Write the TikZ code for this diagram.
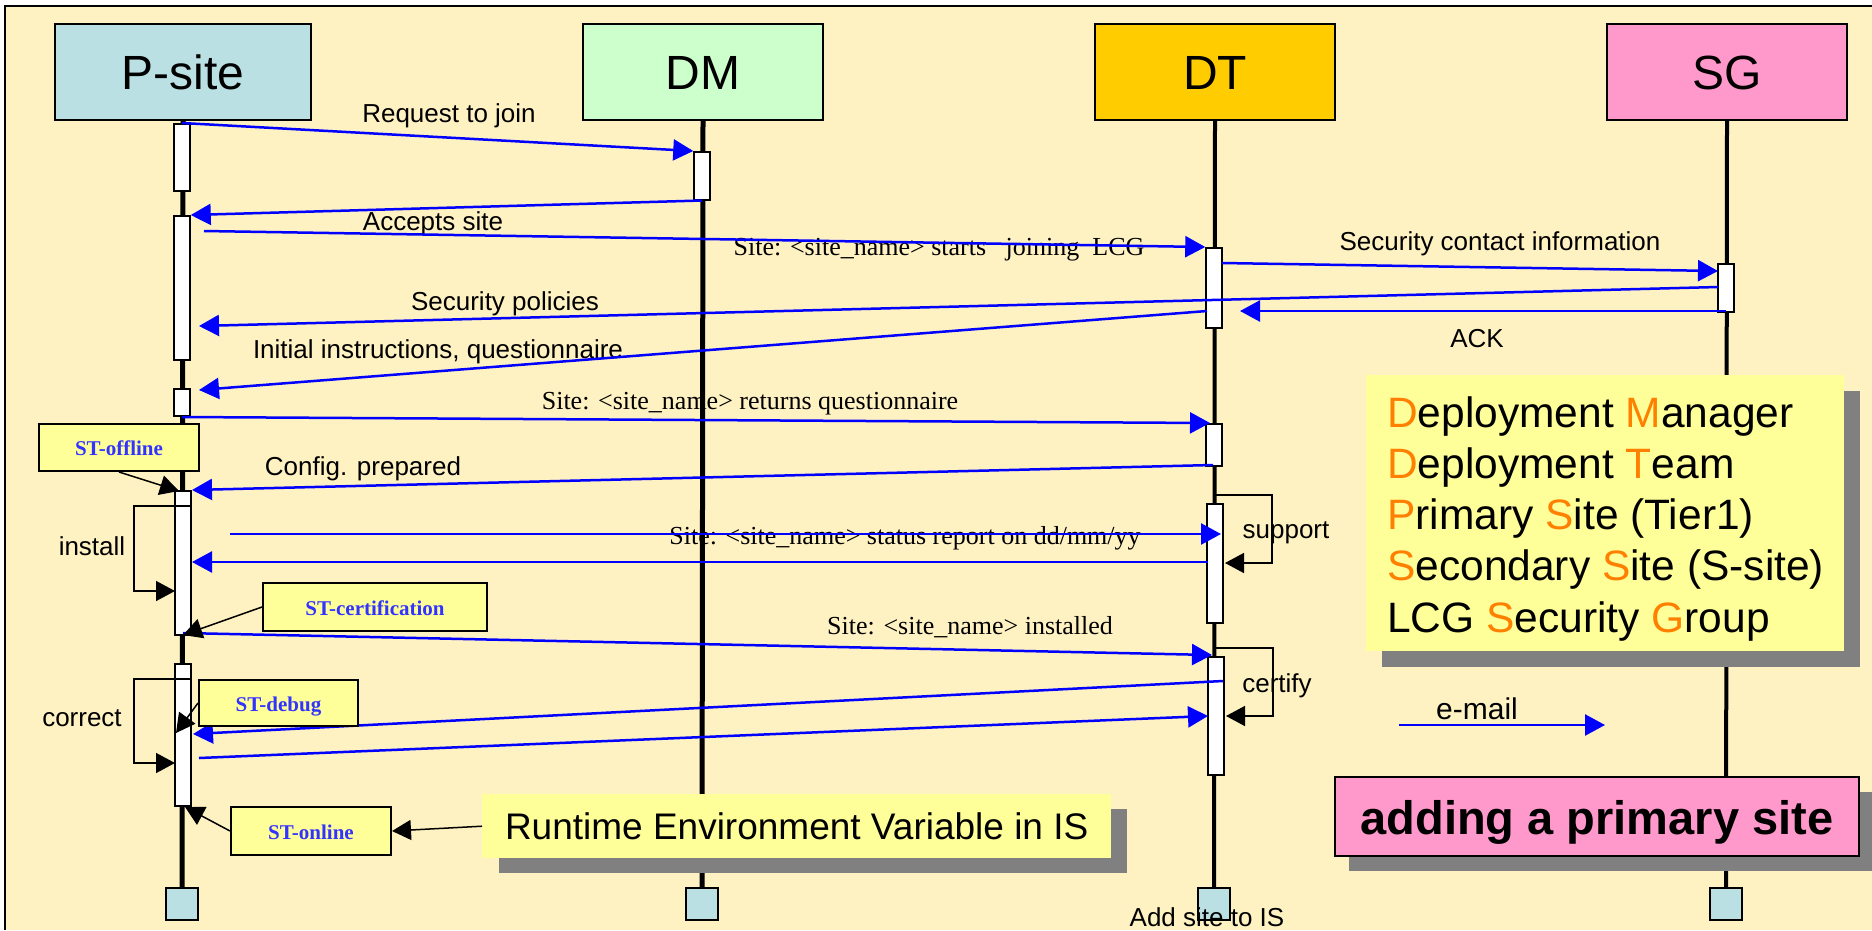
\documentclass[tikz,border=0pt]{standalone}
\usepackage{fontspec}
\setmainfont{Liberation Sans}
\newfontfamily\tnr{Liberation Serif}
\usetikzlibrary{arrows.meta}
\definecolor{bgc}{RGB}{255,242,194}
\definecolor{psc}{RGB}{187,224,227}
\definecolor{dmc}{RGB}{204,255,204}
\definecolor{dtc}{RGB}{255,204,0}
\definecolor{sgc}{RGB}{255,153,204}
\definecolor{ylw}{RGB}{255,255,153}
\definecolor{shd}{RGB}{128,128,128}
\definecolor{stb}{RGB}{51,51,255}
\definecolor{org}{RGB}{255,128,0}
\tikzset{
 hdr/.style={draw, line width=2pt, minimum width=240pt, minimum height=96pt, inner sep=0pt, anchor=north west, text height=35pt, text depth=0pt, font=\fontsize{48}{52}\selectfont},
 act/.style={draw, fill=white, line width=1.5pt, minimum width=16pt, inner sep=0pt, anchor=north},
 sq/.style={draw, fill=psc, line width=1.5pt, minimum size=32pt, inner sep=0pt, anchor=north},
 msg/.style={draw=blue, line width=2.5pt, -{Triangle[length=20pt,width=21pt]}},
 lbl/.style={inner sep=0pt, anchor=base, font=\fontsize{26}{30}\selectfont},
 tlbl/.style={inner sep=0pt, anchor=base, font=\tnr\fontsize{26}{30}\selectfont},
 stbox/.style={draw, line width=2pt, fill=ylw, text=stb, inner sep=0pt, anchor=north west, text height=16pt, text depth=0pt, font=\tnr\bfseries\fontsize{21}{24}\selectfont},
 pointer/.style={line width=1.5pt, -{Triangle[length=19pt,width=20pt]}},
 selfloop/.style={line width=1.5pt, -{Triangle[length=19pt,width=20pt]}},
 leg/.style={inner sep=0pt, anchor=base west, font=\fontsize{42.5}{50}\selectfont},
}
\begin{document}
\begin{tikzpicture}[x=1pt,y=-1pt]
\useasboundingbox (0,0) rectangle (1872,930);
\fill[white] (0,0) rectangle (1872,930);
\fill[bgc] (5,6) rectangle (1872,930);
\draw[line width=2pt] (5,930) -- (5,6) -- (1872,6);

% headers
\node[hdr, fill=psc, minimum width=256pt] (ps) at (54,23) {P-site};
\node[hdr, fill=dmc] (dm) at (582,23) {DM};
\node[hdr, fill=dtc] (dt) at (1094,23) {DT};
\node[hdr, fill=sgc] (sg) at (1606,23) {SG};

% bottom squares
\node[sq] (psb) at (182,887) {};
\node[sq] (dmb) at (702,887) {};
\node[sq] (dtb) at (1214,887) {};
\node[sq] (sgb) at (1726,887) {};

% lifelines
\draw[line width=5pt] (ps.south) -- (psb.north);
\draw[line width=5pt] (dm.south) -- (dmb.north);
\draw[line width=4pt] (dt.south) -- (dtb.north);
\draw[line width=4pt] (sg.south) -- (sgb.north);

% shadows and yellow boxes
\fill[shd] (499,809) rectangle (1127,873);
\node[fill=ylw, minimum width=629pt, minimum height=64pt, inner sep=0pt, anchor=north west, text height=26pt, text depth=0pt, font=\fontsize{37}{40}\selectfont] (rt) at (482,794) {Runtime Environment Variable in IS};

\fill[shd] (1382,391) rectangle (1860,667);
\node[fill=ylw, minimum width=478pt, minimum height=276pt, inner sep=0pt, anchor=north west] (legend) at (1366,375) {};
\node[leg] (l1) at (1387,427) {{\color{org}D}eployment {\color{org}M}anager};
\node[leg] (l2) at (1387,478) {{\color{org}D}eployment {\color{org}T}eam};
\node[leg] (l3) at (1387,529) {{\color{org}P}rimary {\color{org}S}ite (Tier1)};
\node[leg] (l4) at (1387,580) {{\color{org}S}econdary {\color{org}S}ite (S-site)};
\node[leg] (l5) at (1387,632) {LCG {\color{org}S}ecurity {\color{org}G}roup};

\fill[shd] (1349,792) rectangle (1872,871);
\node[draw, line width=2pt, fill=sgc, minimum width=524pt, minimum height=79pt, inner sep=0pt, anchor=north west, text height=35pt, text depth=0pt, font=\bfseries\fontsize{47}{50}\selectfont] (title) at (1334,776) {adding a primary site};

% e-mail legend
\coordinate (e1) at (1399,725);
\coordinate (e2) at (1605,725);
\draw[msg] (e1) -- (e2);
\node[lbl, font=\fontsize{30}{34}\selectfont] (email) at (1477,719) {e-mail};

% activations
\node[act, minimum height=67pt] (pa1) at (182,123) {};
\node[act, minimum height=144pt] (pa2) at (182,215) {};
\node[act, minimum height=27pt] (pa3) at (182,388) {};
\node[act, minimum height=144pt] (pa4) at (183,490) {};
\node[act, minimum height=142pt] (pa5) at (183,663) {};
\node[act, minimum height=48pt] (dma) at (702,151) {};
\node[act, minimum height=80pt] (da1) at (1214,247) {};
\node[act, minimum height=42pt] (da2) at (1214,423) {};
\node[act, minimum height=119pt] (da3) at (1215,503) {};
\node[act, minimum height=118pt] (da4) at (1216,656) {};
\node[act, minimum height=48pt] (sa1) at (1726,263) {};

% self loops
\coordinate (il1) at (191,506); \coordinate (il2) at (134,506); \coordinate (il3) at (134,591); \coordinate (il4) at (175,591);
\draw[selfloop] (il1) -- (il2) -- (il3) -- (il4);
\coordinate (cl1) at (191,679); \coordinate (cl2) at (134,679); \coordinate (cl3) at (134,763); \coordinate (cl4) at (175,763);
\draw[selfloop] (cl1) -- (cl2) -- (cl3) -- (cl4);
\coordinate (sl1) at (1215,495); \coordinate (sl2) at (1272,495); \coordinate (sl3) at (1272,563); \coordinate (sl4) at (1225,563);
\draw[selfloop] (sl1) -- (sl2) -- (sl3) -- (sl4);
\coordinate (kl1) at (1215,648); \coordinate (kl2) at (1273,648); \coordinate (kl3) at (1273,716); \coordinate (kl4) at (1226,716);
\draw[selfloop] (kl1) -- (kl2) -- (kl3) -- (kl4);
\node[lbl] (install) at (92,555) {install};
\node[lbl] (correct) at (82,726) {correct};
\node[lbl] (support) at (1286,538) {support};
\node[lbl] (certify) at (1277,692) {certify};

% message labels
\node[lbl] (t1) at (449,122) {Request to join};
\node[lbl] (t2) at (433,230) {Accepts site};
\node[tlbl] (t3) at (939,255) {Site: <site\_name> starts \ \ joining \ LCG};
\node[lbl] (t4) at (1500,250) {Security contact information};
\node[lbl] (t5) at (505,310) {Security policies};
\node[lbl] (t6) at (1477,347) {ACK};
\node[lbl] (t7) at (438,358) {Initial instructions, questionnaire};
\node[tlbl] (t8) at (750,409) {Site: <site\_name> returns questionnaire};
\node[lbl] (t9) at (363,475) {Config. prepared};
\node[tlbl] (t10) at (905,544) {Site: <site\_name> status report on dd/mm/yy};
\node[tlbl] (t11) at (970,634) {Site: <site\_name> installed};
\node[lbl] (t12) at (1207,926) {Add site to IS};

% messages
\coordinate (m3s) at (204,231);
\coordinate (m4s) at (1222,263);
\coordinate (m4e) at (1718,271);
\coordinate (m5s) at (1718,287);
\coordinate (m5e) at (199,326);
\coordinate (m6s) at (1726,311);
\coordinate (m6e) at (1240,311);
\coordinate (m7s) at (1207,311);
\coordinate (m7e) at (199,390);
\coordinate (m8s) at (182,417);
\coordinate (m8e) at (1210,423);
\coordinate (m9s) at (1213,465);
\coordinate (m9e) at (192,490);
\coordinate (m10s) at (230,534);
\coordinate (m10e) at (1221,534);
\coordinate (m11s) at (1208,562);
\coordinate (m11e) at (192,562);
\coordinate (m12s) at (183,633);
\coordinate (m12e) at (1212,655);
\coordinate (m13s) at (1223,681);
\coordinate (m13e) at (193,734);
\coordinate (m14s) at (199,758);
\coordinate (m14e) at (1208,716);
\draw[msg] (pa1.north) -- (dma.north west);
\draw[msg] (dma.south) -- (pa2.north east);
\draw[msg] (m3s) -- (da1.north west);
\draw[msg] (m4s) -- (m4e);
\draw[msg] (m5s) -- (m5e);
\draw[msg] (m6s) -- (m6e);
\draw[msg] (m7s) -- (m7e);
\draw[msg] (m8s) -- (m8e);
\draw[msg] (m9s) -- (m9e);
\draw[msg] (m10s) -- (m10e);
\draw[msg] (m11s) -- (m11e);
\draw[msg] (m12s) -- (m12e);
\draw[msg] (m13s) -- (m13e);
\draw[msg] (m14s) -- (m14e);

% ST notes
\node[stbox, minimum width=160pt, minimum height=47pt] (sto) at (38,423) {ST-offline};
\node[stbox, minimum width=224pt, minimum height=48pt] (stc) at (262,582) {ST-certification};
\node[stbox, minimum width=159pt, minimum height=46pt] (std) at (198,679) {ST-debug};
\node[stbox, minimum width=160pt, minimum height=48pt] (ston) at (230,806) {ST-online};
\coordinate (p1) at (179,491);
\coordinate (p2) at (183,635);
\coordinate (p3) at (176,733);
\coordinate (p4) at (185,807);
\draw[pointer] (sto.south) -- (p1);
\draw[pointer] (stc.west) -- (p2);
\draw[pointer] (std.west) -- (p3);
\draw[pointer] (ston.west) -- (p4);
\draw[pointer] (rt.west) -- (ston.east);
\end{tikzpicture}
\end{document}
